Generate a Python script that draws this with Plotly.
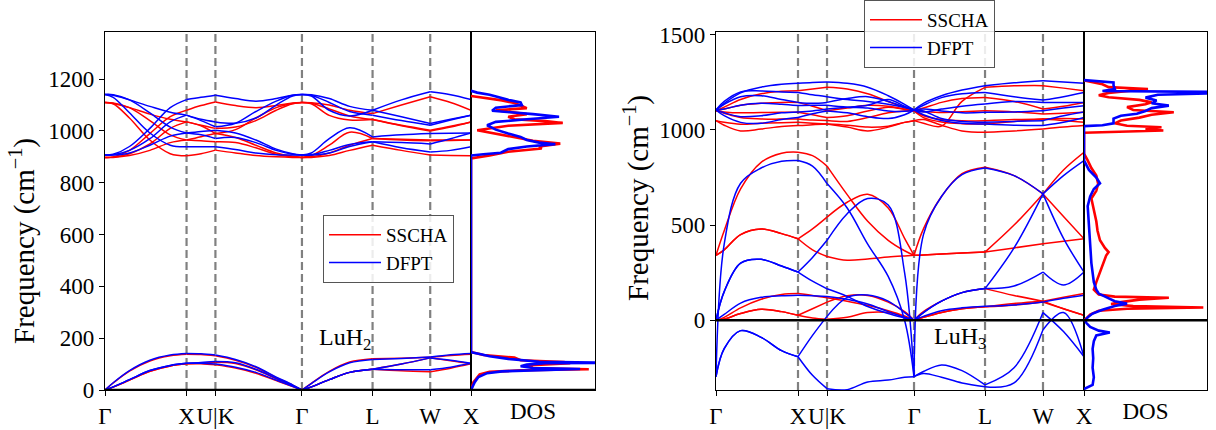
import plotly.graph_objects as go

# ---------------- path (units of 2*pi/a) ----------------
kpath = [0.0, 0.1, 0.3, 0.55, 0.8, 1.0, 1.177, 1.354, 1.6, 1.85, 2.1, 2.3, 2.415,
         2.53, 2.75, 3.0, 3.281, 3.635, 3.988, 4.238, 4.488]
seg_bounds = [0, 5, 7, 12, 16, 18, 20]
sym_pos = [0.0, 1.0, 1.354, 2.415, 3.281, 3.988, 4.488]
sym_labels = ["Γ", "X", "U|K", "Γ", "L", "W", "X"]

# ---------------- LuH2 bands ----------------
luh2_dfpt = [
    [0, 12, 40, 75, 95, 103, 103, 100, 88, 68, 38, 14, 0, 12, 40, 68, 80, 78, 78, 88, 103],
    [0, 12, 40, 75, 95, 103, 106, 110, 105, 80, 45, 17, 0, 12, 40, 68, 80, 100, 124, 115, 103],
    [0, 28, 75, 115, 135, 141, 140, 135, 118, 90, 50, 20, 0, 25, 70, 105, 118, 122, 127, 136, 141],
    [1141, 1130, 1070, 992, 945, 939, 939, 939, 928, 915, 908, 907, 907, 907, 915, 940, 958, 935, 919, 925, 939],
    [1141, 1140, 1120, 1070, 1015, 992, 998, 1003, 992, 965, 930, 912, 907, 915, 970, 1012, 977, 985, 990, 991, 992],
    [1141, 1138, 1120, 1095, 1072, 1061, 1045, 1035, 1030, 1050, 1100, 1135, 1141, 1135, 1080, 1058, 1080, 1055, 1029, 1045, 1061],
    [907, 910, 940, 1010, 1090, 1121, 1130, 1138, 1125, 1115, 1125, 1138, 1141, 1140, 1125, 1095, 1080, 1120, 1151, 1140, 1121],
    [907, 908, 925, 970, 1035, 1061, 1040, 1016, 1030, 1075, 1115, 1138, 1141, 1138, 1110, 1075, 1061, 1040, 1022, 1042, 1061],
    [907, 907, 915, 945, 980, 992, 985, 971, 975, 955, 925, 910, 907, 908, 925, 948, 958, 955, 950, 970, 992],
]
luh2_sscha = [
    [0, 11, 38, 72, 93, 101, 101, 97, 85, 65, 36, 13, 0, 12, 40, 68, 80, 74, 70, 84, 101],
    [0, 11, 38, 72, 93, 101, 104, 107, 102, 78, 43, 16, 0, 12, 40, 68, 80, 100, 124, 113, 101],
    [0, 27, 73, 112, 132, 138, 137, 132, 115, 88, 48, 19, 0, 26, 72, 108, 121, 123, 126, 133, 138],
    [1110, 1105, 1050, 965, 912, 904, 912, 926, 915, 905, 900, 898, 898, 898, 905, 925, 945, 925, 907, 905, 904],
    [1110, 1108, 1090, 1040, 985, 965, 978, 990, 975, 945, 915, 902, 898, 905, 945, 995, 971, 968, 965, 965, 965],
    [1110, 1106, 1090, 1065, 1045, 1035, 1022, 1010, 1015, 1040, 1080, 1105, 1110, 1105, 1060, 1042, 1044, 1022, 1003, 1018, 1035],
    [898, 900, 925, 990, 1055, 1080, 1098, 1112, 1098, 1090, 1098, 1108, 1110, 1109, 1100, 1080, 1067, 1100, 1132, 1110, 1080],
    [898, 899, 912, 950, 1010, 1035, 1020, 990, 1005, 1050, 1090, 1106, 1110, 1107, 1085, 1058, 1044, 1020, 1000, 1015, 1035],
    [898, 898, 905, 925, 955, 965, 962, 958, 955, 935, 910, 900, 898, 900, 915, 945, 971, 965, 962, 963, 965],
]

# ---------------- LuH3 bands ----------------
luh3_dfpt = [
    [-297, 400, 720, 800, 835, 839, 810, 718, 590, 400, 230, 0, -297, 450, 650, 765, 800, 760, 664, 760, 839],
    [0, 150, 300, 320, 285, 253, 330, 420, 560, 640, 605, 250, -297, -270, -235, -265, -340, -250, 40, -60, -192],
    [-297, -150, -55, -90, -160, -192, -290, -360, -365, -325, -315, -300, -297, -280, -300, -330, -350, -330, -50, 40, -192],
    [0, 30, 90, 120, 128, 131, 128, 125, 110, 85, 45, 15, 0, 20, 50, 65, 73, 80, 95, 115, 131],
    [0, 150, 300, 320, 285, 253, 205, 165, 125, 72, 35, 12, 0, 40, 100, 145, 166, 380, 664, 430, 253],
    [-297, -150, -55, -90, -160, -192, -80, 20, 120, 132, 100, 40, 0, 40, 100, 145, 166, 180, 253, 185, 253],
    [1105, 1140, 1195, 1225, 1240, 1245, 1250, 1252, 1245, 1225, 1180, 1135, 1105, 1140, 1180, 1210, 1233, 1248, 1259, 1252, 1245],
    [1105, 1150, 1200, 1205, 1200, 1197, 1185, 1175, 1160, 1150, 1135, 1118, 1105, 1130, 1170, 1190, 1197, 1175, 1157, 1175, 1197],
    [1105, 1135, 1175, 1180, 1160, 1145, 1140, 1145, 1165, 1175, 1150, 1120, 1105, 1095, 1110, 1125, 1136, 1150, 1145, 1145, 1145],
    [1105, 1110, 1130, 1140, 1135, 1128, 1130, 1130, 1120, 1115, 1100, 1098, 1105, 1110, 1100, 1090, 1093, 1095, 1101, 1115, 1128],
    [1105, 1090, 1070, 1075, 1090, 1095, 1100, 1110, 1120, 1130, 1160, 1125, 1105, 1100, 1060, 1045, 1040, 1045, 1049, 1075, 1095],
    [1105, 1075, 1040, 1035, 1055, 1066, 1085, 1100, 1090, 1070, 1060, 1080, 1105, 1080, 1050, 1035, 1031, 1025, 1023, 1040, 1066],
]
luh3_sscha = [
    [341, 470, 690, 830, 878, 883, 865, 810, 660, 520, 420, 365, 341, 480, 650, 770, 804, 760, 664, 790, 883],
    [341, 370, 450, 480, 455, 428, 480, 542, 620, 662, 590, 430, 341, 343, 348, 353, 358, 500, 664, 545, 428],
    [341, 370, 450, 480, 455, 428, 370, 335, 315, 322, 332, 338, 341, 343, 348, 353, 358, 380, 402, 415, 428],
    [0, 6, 35, 58, 45, 26, 12, 5, 15, 40, 40, 18, 0, 15, 40, 60, 70, 80, 96, 60, 26],
    [0, 6, 35, 58, 45, 26, 60, 95, 128, 130, 95, 45, 0, 15, 40, 60, 70, 88, 100, 60, 26],
    [0, 15, 65, 110, 135, 140, 130, 118, 100, 78, 50, 22, 0, 45, 100, 145, 166, 130, 100, 120, 140],
    [1101, 1120, 1160, 1190, 1203, 1206, 1215, 1224, 1215, 1190, 1150, 1118, 1101, 1115, 1145, 1165, 1171, 1150, 1110, 1125, 1145],
    [1101, 1110, 1130, 1140, 1145, 1145, 1125, 1101, 1115, 1130, 1125, 1110, 1101, 1097, 1092, 1096, 1101, 1095, 1084, 1088, 1093],
    [1101, 1095, 1090, 1092, 1093, 1093, 1080, 1065, 1075, 1100, 1120, 1108, 1101, 1075, 1055, 1048, 1049, 1055, 1058, 1060, 1058],
    [1101, 1088, 1065, 1058, 1057, 1058, 1052, 1050, 1045, 1065, 1090, 1100, 1101, 1065, 1042, 1033, 1031, 1045, 1058, 1050, 1040],
    [1049, 1040, 1030, 1035, 1038, 1040, 1035, 1031, 1015, 995, 1015, 1040, 1049, 1055, 1025, 995, 988, 995, 1005, 1015, 1023],
    [1049, 1025, 995, 1005, 1018, 1023, 1028, 1031, 1025, 1015, 1020, 1040, 1049, 1035, 1020, 1150, 1224, 1232, 1233, 1220, 1206],
]

# ---------------- DOS ----------------
dos2_dfpt_freq = [0, 10, 30, 50, 65, 72, 78, 81, 85, 92, 98, 103, 105, 109, 120, 130, 138, 143, 146, 500, 905,
                  910, 916, 930, 940, 949, 955, 965, 977, 990, 1005, 1022, 1035, 1045, 1055, 1065, 1078, 1090,
                  1100, 1110, 1120, 1132, 1140, 1148, 1155]
dos2_dfpt_val = [0, 0.01, 0.03, 0.06, 0.13, 0.25, 0.6, 0.88, 0.5, 0.4, 0.45, 0.6, 1.2, 0.55, 0.3, 0.15, 0.08, 0.03, 0, 0, 0,
                 0.1, 0.24, 0.3, 0.45, 0.68, 0.55, 0.45, 0.4, 0.3, 0.2, 0.13, 0.2, 0.45, 0.71, 0.5, 0.17, 0.2,
                 0.41, 0.4, 0.3, 0.21, 0.15, 0.05, 0]
dos2_sscha_freq = [0, 30, 60, 70, 76, 80, 84, 95, 103, 108, 115, 125, 135, 142, 147, 894, 898, 905, 920, 932, 940,
                   951, 962, 975, 990, 1003, 1020, 1031, 1038, 1045, 1055, 1065, 1080, 1088, 1098, 1108, 1118,
                   1128, 1135]
dos2_sscha_val = [0, 0.02, 0.07, 0.15, 0.4, 0.95, 0.5, 0.45, 0.8, 0.75, 0.4, 0.35, 0.1, 0.03, 0, 0, 0.05, 0.15, 0.3,
                  0.57, 0.55, 0.72, 0.5, 0.35, 0.2, 0.05, 0.3, 0.74, 0.6, 0.35, 0.3, 0.45, 0.2, 0.45, 0.4, 0.35,
                  0.25, 0.1, 0]

dos3_dfpt_freq = [-362, -340, -300, -250, -200, -150, -110, -80, -65, -55, -35, -15, 0, 15, 35, 55, 75, 87, 100,
                  120, 140, 160, 200, 300, 400, 500, 600, 650, 690, 720, 750, 790, 830, 840, 1020, 1025, 1035,
                  1060, 1075, 1085, 1100, 1115, 1128, 1140, 1155, 1170, 1185, 1195, 1199, 1205, 1215, 1235, 1250,
                  1258, 1262]
dos3_dfpt_val = [0, 0.07, 0.08, 0.07, 0.075, 0.07, 0.08, 0.1, 0.21, 0.12, 0.05, 0.02, 0.01, 0.03, 0.07, 0.15, 0.25,
                 0.35, 0.25, 0.18, 0.12, 0.1, 0.08, 0.06, 0.05, 0.04, 0.03, 0.05, 0.08, 0.13, 0.1, 0.04, 0.005, 0,
                 0, 0.15, 0.24, 0.24, 0.3, 0.43, 0.5, 0.55, 0.69, 0.55, 0.59, 0.5, 0.6, 1.2, 1.2, 0.15, 0.25, 0.24,
                 0.24, 0.05, 0]
dos3_sscha_freq = [0, 10, 30, 50, 60, 67, 74, 85, 95, 108, 118, 124, 135, 160, 200, 250, 300, 340, 358, 380, 420,
                   470, 520, 580, 640, 680, 717, 760, 800, 840, 875, 985, 992, 997, 1005, 1014, 1022, 1035, 1050,
                   1065, 1080, 1093, 1105, 1120, 1135, 1145, 1158, 1172, 1182, 1195, 1215, 1225, 1240, 1255, 1260]
dos3_sscha_val = [0, 0.02, 0.05, 0.12, 0.35, 0.97, 0.4, 0.22, 0.3, 0.45, 0.69, 0.25, 0.12, 0.08, 0.1, 0.13, 0.16,
                  0.18, 0.2, 0.17, 0.13, 0.11, 0.1, 0.08, 0.06, 0.1, 0.115, 0.1, 0.06, 0.03, 0, 0, 0.4, 0.645, 0.5,
                  0.63, 0.35, 0.25, 0.3, 0.45, 0.55, 0.73, 0.4, 0.35, 0.5, 0.55, 0.45, 0.2, 0.12, 0.2, 0.52, 0.2,
                  0.15, 0.05, 0]

RED = "#ff0000"
BLUE = "#0000ff"
FONT = "Liberation Serif, Times New Roman, serif"

fig = go.Figure()


def seg_xy(vals):
    xs, ys = [], []
    for a, b in zip(seg_bounds[:-1], seg_bounds[1:]):
        xs += kpath[a:b + 1] + [None]
        ys += vals[a:b + 1] + [None]
    return xs, ys


def add_bands(bands, color, name, xa, ya, legend):
    for i, band in enumerate(bands):
        xs, ys = seg_xy(band)
        fig.add_trace(go.Scatter(
            x=xs, y=ys, mode="lines", xaxis=xa, yaxis=ya,
            line=dict(color=color, width=1.5, shape="spline", smoothing=1.0),
            name=name, showlegend=(i == 0), legend=legend, hoverinfo="skip"))


def add_dos(freq, val, color, xa, ya):
    fig.add_trace(go.Scatter(
        x=val, y=freq, mode="lines", xaxis=xa, yaxis=ya,
        line=dict(color=color, width=2.6), showlegend=False, hoverinfo="skip"))


add_bands(luh2_sscha, RED, "SSCHA", "x", "y", "legend")
add_bands(luh2_dfpt, BLUE, "DFPT", "x", "y", "legend")
add_dos(dos2_sscha_freq, dos2_sscha_val, RED, "x2", "y2")
add_dos(dos2_dfpt_freq, dos2_dfpt_val, BLUE, "x2", "y2")

add_bands(luh3_sscha, RED, "SSCHA", "x3", "y3", "legend2")
add_bands(luh3_dfpt, BLUE, "DFPT", "x3", "y3", "legend2")
add_dos(dos3_sscha_freq, dos3_sscha_val, RED, "x4", "y4")
add_dos(dos3_dfpt_freq, dos3_dfpt_val, BLUE, "x4", "y4")

W, H = 1216, 430
ydom = [(H - 390) / H, (H - 32) / H]
dom_band_l = [105 / W, 471 / W]
dom_dos_l = [471 / W, 595 / W]
dom_band_r = [716 / W, 1084 / W]
dom_dos_r = [1084 / W, 1207 / W]

tickfont = dict(family=FONT, size=23, color="black")
ax_common = dict(showline=True, linecolor="black", linewidth=1.2, mirror=True, showgrid=False,
                 zeroline=False, automargin=False, tickfont=tickfont, tickcolor="black")

band_x = dict(range=[0, 4.488], tickvals=sym_pos, ticktext=sym_labels, ticks="outside",
              ticklen=5, tickwidth=1, tickangle=0, **ax_common)
dos_x = dict(range=[0, 1.0], tickvals=[0.5], ticktext=["DOS"], ticks="", tickangle=0, **ax_common)

fig.update_layout(
    width=W, height=H, margin=dict(l=0, r=0, t=0, b=0),
    paper_bgcolor="white", plot_bgcolor="white",
    font=dict(family=FONT, size=23, color="black"),
    xaxis=dict(domain=dom_band_l, anchor="y", **band_x),
    yaxis=dict(domain=ydom, anchor="x", range=[0, 1382], tickvals=[0, 200, 400, 600, 800, 1000, 1200],
               ticks="outside", ticklen=5, tickwidth=1, **ax_common),
    xaxis2=dict(domain=dom_dos_l, anchor="y2", **dos_x),
    yaxis2=dict(domain=ydom, anchor="x2", matches="y", showticklabels=False, ticks="", **ax_common),
    xaxis3=dict(domain=dom_band_r, anchor="y3", **band_x),
    yaxis3=dict(domain=ydom, anchor="x3", range=[-367, 1515], tickvals=[0, 500, 1000, 1500],
                ticks="outside", ticklen=5, tickwidth=1, **ax_common),
    xaxis4=dict(domain=dom_dos_r, anchor="y4", **dos_x),
    yaxis4=dict(domain=ydom, anchor="x4", matches="y3", showticklabels=False, ticks="", **ax_common),
    legend=dict(x=323 / W, y=(H - 215) / H, xanchor="left", yanchor="top", itemwidth=52,
                font=dict(family=FONT, size=19, color="black"), bgcolor="rgba(255,255,255,0.85)",
                bordercolor="#555555", borderwidth=1),
    legend2=dict(x=864 / W, y=1.0, xanchor="left", yanchor="top", itemwidth=52,
                 font=dict(family=FONT, size=19, color="black"), bgcolor="rgba(255,255,255,0.85)",
                 bordercolor="#555555", borderwidth=1),
)

shapes = []
for xa, ya in (("x", "y"), ("x3", "y3")):
    for p in sym_pos[1:-1]:
        shapes.append(dict(type="line", xref=xa, yref=ya + " domain", x0=p, x1=p, y0=0, y1=1,
                           line=dict(color="gray", width=2.2, dash="8px,4px"), layer="below"))
# zero-frequency lines across band + DOS panels
shapes.append(dict(type="line", xref="paper", yref="y", x0=dom_band_l[0], x1=dom_dos_l[1], y0=0, y1=0,
                   line=dict(color="black", width=2.5), layer="above"))
shapes.append(dict(type="line", xref="paper", yref="y3", x0=dom_band_r[0], x1=dom_dos_r[1], y0=0, y1=0,
                   line=dict(color="black", width=2.5), layer="above"))
fig.update_layout(shapes=shapes)

# y-axis labels
ylabel = "Frequency (cm<sup>−1</sup>)"
fig.add_annotation(text=ylabel, x=23 / W, y=(H - 241) / H, xref="paper", yref="paper", showarrow=False,
                   textangle=-90, xanchor="center", yanchor="middle",
                   font=dict(family=FONT, size=29, color="black"))
fig.add_annotation(text=ylabel, x=637 / W, y=(H - 198) / H, xref="paper", yref="paper", showarrow=False,
                   textangle=-90, xanchor="center", yanchor="middle",
                   font=dict(family=FONT, size=29, color="black"))

fig.add_annotation(text="LuH<sub>2</sub>", x=2.94, y=195, xref="x", yref="y", showarrow=False,
                   font=dict(family=FONT, size=24, color="black"))
fig.add_annotation(text="LuH<sub>3</sub>", x=2.976, y=-94, xref="x3", yref="y3", showarrow=False,
                   font=dict(family=FONT, size=24, color="black"))

fig.write_html("out.html")
